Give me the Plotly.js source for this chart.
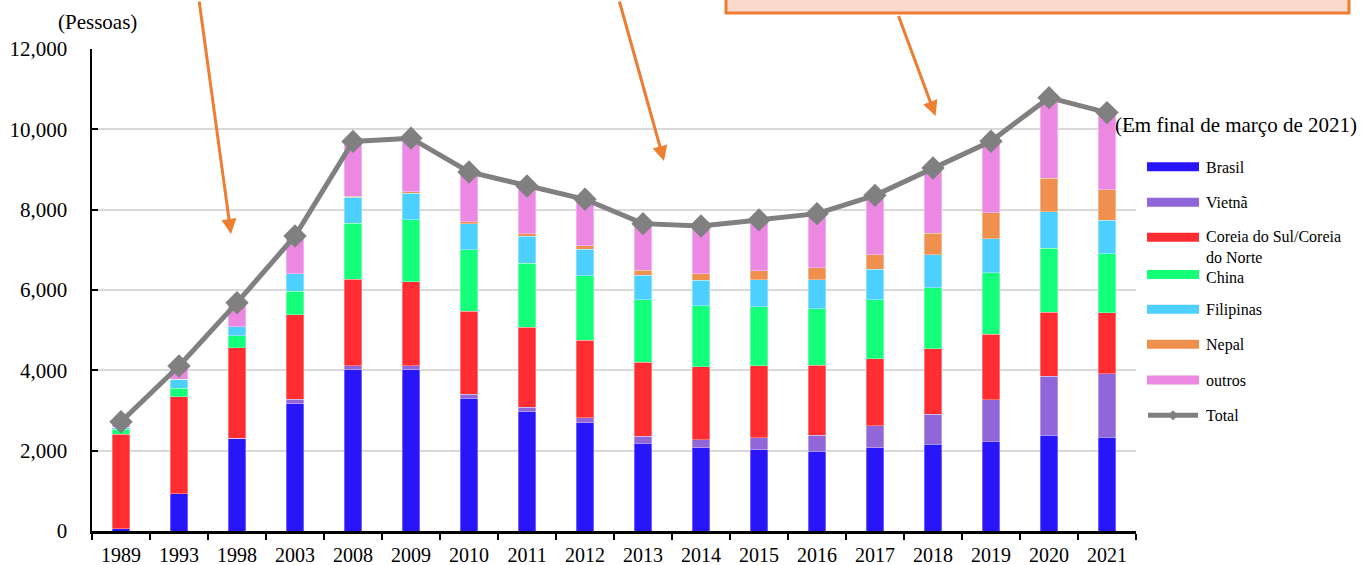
<!DOCTYPE html>
<html>
<head>
<meta charset="utf-8">
<script src="https://cdn.plot.ly/plotly-3.0.1.min.js"></script>
<style>
html,body{margin:0;padding:0;background:#fff;}
#chart{width:1364px;height:565px;}
</style>
</head>
<body>
<div id="chart"></div>
<script>
const years = ['1989','1993','1998','2003','2008','2009','2010','2011','2012','2013','2014','2015','2016','2017','2018','2019','2020','2021'];
const brasil    = [60, 930, 2300, 3170, 4010, 4010, 3310, 2970, 2690, 2190, 2070, 2020, 1985, 2070, 2165, 2240, 2380, 2340];
const vietna    = [0, 0, 10, 105, 110, 110, 95, 115, 130, 165, 205, 305, 405, 545, 740, 1030, 1470, 1570];
const coreia    = [2355, 2415, 2255, 2105, 2147, 2081, 2064, 1992, 1925, 1851, 1809, 1784, 1735, 1677, 1627, 1627, 1593, 1519];
const china     = [115, 208, 290, 589, 1401, 1550, 1536, 1594, 1610, 1552, 1519, 1469, 1411, 1469, 1518, 1535, 1602, 1477];
const filipinas = [50, 224, 233, 439, 639, 663, 639, 672, 664, 614, 639, 681, 722, 755, 822, 847, 905, 830];
const nepal     = [0, 0, 0, 0, 25, 34, 50, 58, 83, 124, 166, 216, 290, 365, 547, 647, 830, 764];
const outros    = [140, 330, 595, 935, 1367, 1332, 1245, 1189, 1156, 1156, 1186, 1270, 1353, 1476, 1619, 1776, 2009, 1916];
const total     = [2720, 4107, 5684, 7345, 9699, 9780, 8939, 8590, 8258, 7652, 7594, 7745, 7901, 8357, 9038, 9702, 10789, 10416];

const seriesNames = ['Brasil', 'Vietnã', 'Coreia do Sul/Coreia<br>do Norte', 'China', 'Filipinas', 'Nepal', 'outros'];
const seriesData = [brasil, vietna, coreia, china, filipinas, nepal, outros];
const seriesColors = ['#2815FA', '#9166D8', '#FF2D31', '#14FF7A', '#4DCFFF', '#F0904E', '#EA88E2'];
const totalName = 'Total';
const unitLabel = '(Pessoas)';
const dateLabel = '(Em final de março de 2021)';

const FONT = 'Liberation Serif, Times New Roman, serif';
const W = 1364, H = 565;
const L = 92, R = 1136, T = 49, B = 531;
const px = x => (x - L) / (R - L);
const py = y => (B - y) / (B - T);

const traces = seriesData.map((d, i) => ({
  type: 'bar', x: years, y: d, name: seriesNames[i],
  marker: {color: seriesColors[i], line: {color: 'rgba(255,255,255,0.55)', width: 0.6}},
  width: 0.305, showlegend: false, hoverinfo: 'x+y+name'
}));
traces.push({
  type: 'scatter', mode: 'lines+markers', x: years, y: total, name: totalName,
  line: {color: '#808080', width: 5},
  marker: {symbol: 'diamond', size: 18, color: '#808080'},
  showlegend: false, cliponaxis: false
});

const shapes = [];
const annotations = [];

// manual legend (swatch centre y, text first-line centre y)
const legY  = [166.7, 202.3, 237.3, 274.5, 309.3, 344.3, 380];
const textY = [166.7, 202.3, 235.5, 276.5, 309.3, 344.3, 380];
seriesNames.forEach((n, i) => {
  shapes.push({type: 'rect', xref: 'paper', yref: 'paper',
    x0: px(1147), x1: px(1199), y0: py(legY[i] + 4.5), y1: py(legY[i] - 4.5),
    fillcolor: seriesColors[i], line: {width: 0}});
  annotations.push({xref: 'paper', yref: 'paper', x: px(1204), y: py(textY[i] - 10),
    xanchor: 'left', yanchor: 'top', align: 'left', showarrow: false, text: n,
    font: {family: FONT, size: 16, color: '#000'}});
});
const totY = 415.3;
shapes.push({type: 'line', xref: 'paper', yref: 'paper', x0: px(1148), x1: px(1198), y0: py(totY), y1: py(totY),
  line: {color: '#808080', width: 5}});
shapes.push({type: 'path', xref: 'paper', yref: 'paper',
  path: `M ${px(1173)} ${py(totY-5)} L ${px(1178)} ${py(totY)} L ${px(1173)} ${py(totY+5)} L ${px(1168)} ${py(totY)} Z`,
  fillcolor: '#808080', line: {width: 0}});
annotations.push({xref: 'paper', yref: 'paper', x: px(1204), y: py(totY), xanchor: 'left', yanchor: 'middle',
  showarrow: false, text: totalName, font: {family: FONT, size: 16, color: '#000'}});

// callout box (mostly cropped at top)
shapes.push({type: 'rect', xref: 'paper', yref: 'paper', layer: 'above',
  x0: px(726), x1: px(1349), y0: py(13), y1: py(-20),
  fillcolor: '#F8D9CC', line: {color: '#ED7D31', width: 3}});

// arrows
const arrows = [
  {hx: 231, hy: 234, ax: -32, ay: -254},
  {hx: 664, hy: 161, ax: -45, ay: -181},
  {hx: 935.5, hy: 116, ax: -37.5, ay: -101.5}
];
arrows.forEach(a => annotations.push({xref: 'paper', yref: 'paper', x: px(a.hx), y: py(a.hy),
  ax: a.ax, ay: a.ay, text: '', showarrow: true, arrowhead: 2, arrowsize: 1, arrowwidth: 3,
  arrowcolor: '#ED7D31', standoff: 0}));

annotations.push({xref: 'paper', yref: 'paper', x: px(97), y: py(22), xanchor: 'center', yanchor: 'middle',
  showarrow: false, text: unitLabel, font: {family: FONT, size: 21, color: '#000'}});
annotations.push({xref: 'paper', yref: 'paper', x: px(1113), y: py(125), xanchor: 'left', yanchor: 'middle',
  showarrow: false, text: dateLabel, font: {family: FONT, size: 21, color: '#000'}});

const layout = {
  width: W, height: H,
  margin: {l: L, r: W - R, t: T, b: H - B, pad: 0},
  paper_bgcolor: '#fff', plot_bgcolor: '#fff',
  barmode: 'stack', bargap: 0.7,
  showlegend: false,
  font: {family: FONT, color: '#000'},
  xaxis: {
    type: 'category', range: [-0.5, years.length - 0.5], autorange: false,
    tickson: 'boundaries', ticks: 'outside', ticklen: 6, tickwidth: 2, tickcolor: '#000',
    showline: true, linecolor: '#000', linewidth: 2.5, showgrid: false, zeroline: false,
    tickfont: {family: FONT, size: 20, color: '#000'}, ticklabelstandoff: 4, fixedrange: true
  },
  yaxis: {
    range: [0, 12000], autorange: false, tickvals: [0, 2000, 4000, 6000, 8000, 10000, 12000], tickformat: ',d',
    ticks: 'inside', ticklen: 6, tickwidth: 2, tickcolor: '#000',
    showline: true, linecolor: '#000', linewidth: 2.5,
    showgrid: true, gridcolor: '#D9D9D9', gridwidth: 2, zeroline: false,
    tickfont: {family: FONT, size: 21, color: '#000'}, ticklabelstandoff: 18, fixedrange: true
  },
  shapes: shapes,
  annotations: annotations
};

Plotly.newPlot('chart', traces, layout, {displayModeBar: false, staticPlot: true});
</script>
</body>
</html>
